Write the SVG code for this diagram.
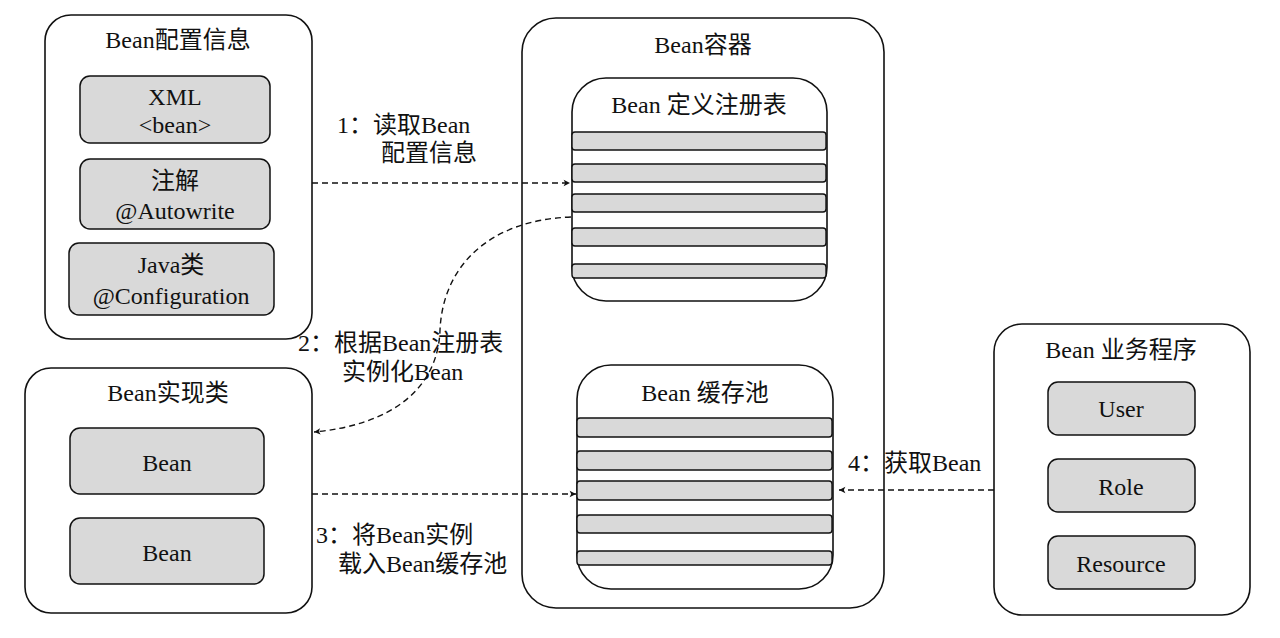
<svg xmlns="http://www.w3.org/2000/svg" width="1280" height="638" viewBox="0 0 1280 638">
<defs>
<style>
.box{fill:#fff;stroke:#111;stroke-width:1.6}
.item{fill:#d9d9d9;stroke:#111;stroke-width:1.5}
.row{fill:#d9d9d9;stroke:#111;stroke-width:1.4}
text{font-family:"Liberation Serif","Noto Sans CJK SC",serif;font-size:24px;fill:#111}
.c{text-anchor:middle}
.dash{fill:none;stroke:#111;stroke-width:1.4;stroke-dasharray:6 4}
</style>
<marker id="arr" viewBox="0 0 10 10" refX="9" refY="5" markerWidth="8" markerHeight="8" markerUnits="userSpaceOnUse" orient="auto">
<path d="M1,1 L9,5 L1,9 L3,5 Z" fill="#111"/>
</marker>
</defs>
<rect width="1280" height="638" fill="#fff"/>

<g id="config">
<rect class="box" x="45" y="15" width="267" height="324" rx="26"/>
<text class="c" x="178" y="48">Bean配置信息</text>
<rect class="item" x="80" y="76" width="190" height="67" rx="10"/>
<text class="c" x="175" y="105">XML</text>
<text class="c" x="175" y="133">&lt;bean&gt;</text>
<rect class="item" x="80" y="159" width="190" height="70" rx="10"/>
<text class="c" x="175" y="189">注解</text>
<text class="c" x="175" y="219">@Autowrite</text>
<rect class="item" x="69" y="243" width="205" height="72" rx="10"/>
<text class="c" x="171" y="273">Java类</text>
<text class="c" x="171" y="304">@Configuration</text>
</g>

<g id="impl">
<rect class="box" x="25" y="368" width="287" height="245" rx="26"/>
<text class="c" x="168" y="401">Bean实现类</text>
<rect class="item" x="70" y="428" width="194" height="66" rx="10"/>
<text class="c" x="167" y="471">Bean</text>
<rect class="item" x="70" y="518" width="194" height="66" rx="10"/>
<text class="c" x="167" y="561">Bean</text>
</g>

<g id="container">
<rect class="box" x="522" y="18" width="362" height="590" rx="34"/>
<text class="c" x="703" y="53">Bean容器</text>
</g>

<g id="registry">
<rect class="box" x="572" y="78" width="255" height="223" rx="34"/>
<text class="c" x="699" y="113">Bean 定义注册表</text>
<rect class="row" x="572" y="132" width="254" height="18" rx="3"/>
<rect class="row" x="572" y="164" width="254" height="18" rx="3"/>
<rect class="row" x="572" y="194" width="254" height="18" rx="3"/>
<rect class="row" x="572" y="228" width="254" height="18" rx="3"/>
<rect class="row" x="572" y="264" width="254" height="14" rx="3"/>
</g>

<g id="cache">
<rect class="box" x="577" y="365" width="256" height="224" rx="34"/>
<text class="c" x="705" y="401">Bean 缓存池</text>
<rect class="row" x="577" y="418" width="255" height="19" rx="3"/>
<rect class="row" x="577" y="451" width="255" height="19" rx="3"/>
<rect class="row" x="577" y="481" width="255" height="19" rx="3"/>
<rect class="row" x="577" y="515" width="255" height="18" rx="3"/>
<rect class="row" x="577" y="551" width="255" height="14" rx="3"/>
</g>

<g id="business">
<rect class="box" x="994" y="324" width="256" height="291" rx="28"/>
<text class="c" x="1121" y="358">Bean 业务程序</text>
<rect class="item" x="1048" y="382" width="147" height="53" rx="10"/>
<text class="c" x="1121" y="417">User</text>
<rect class="item" x="1048" y="459" width="147" height="53" rx="10"/>
<text class="c" x="1121" y="495">Role</text>
<rect class="item" x="1048" y="536" width="147" height="53" rx="10"/>
<text class="c" x="1121" y="572">Resource</text>
</g>

<g id="connectors">
<line class="dash" x1="312" y1="183" x2="570" y2="183" marker-end="url(#arr)"/>
<path class="dash" d="M571,217 C490,220 443,265 440,330 C438,390 390,425 314,432" marker-end="url(#arr)"/>
<line class="dash" x1="312" y1="494" x2="576" y2="494" marker-end="url(#arr)"/>
<line class="dash" x1="994" y1="490" x2="839" y2="490" marker-end="url(#arr)"/>
</g>

<g id="labels">
<text x="337" y="133">1：读取Bean</text>
<text x="381" y="161">配置信息</text>
<text x="298" y="351">2：根据Bean注册表</text>
<text x="342" y="380">实例化Bean</text>
<text x="316" y="543">3：将Bean实例</text>
<text x="338" y="572">载入Bean缓存池</text>
<text x="848" y="471">4：获取Bean</text>
</g>
</svg>
